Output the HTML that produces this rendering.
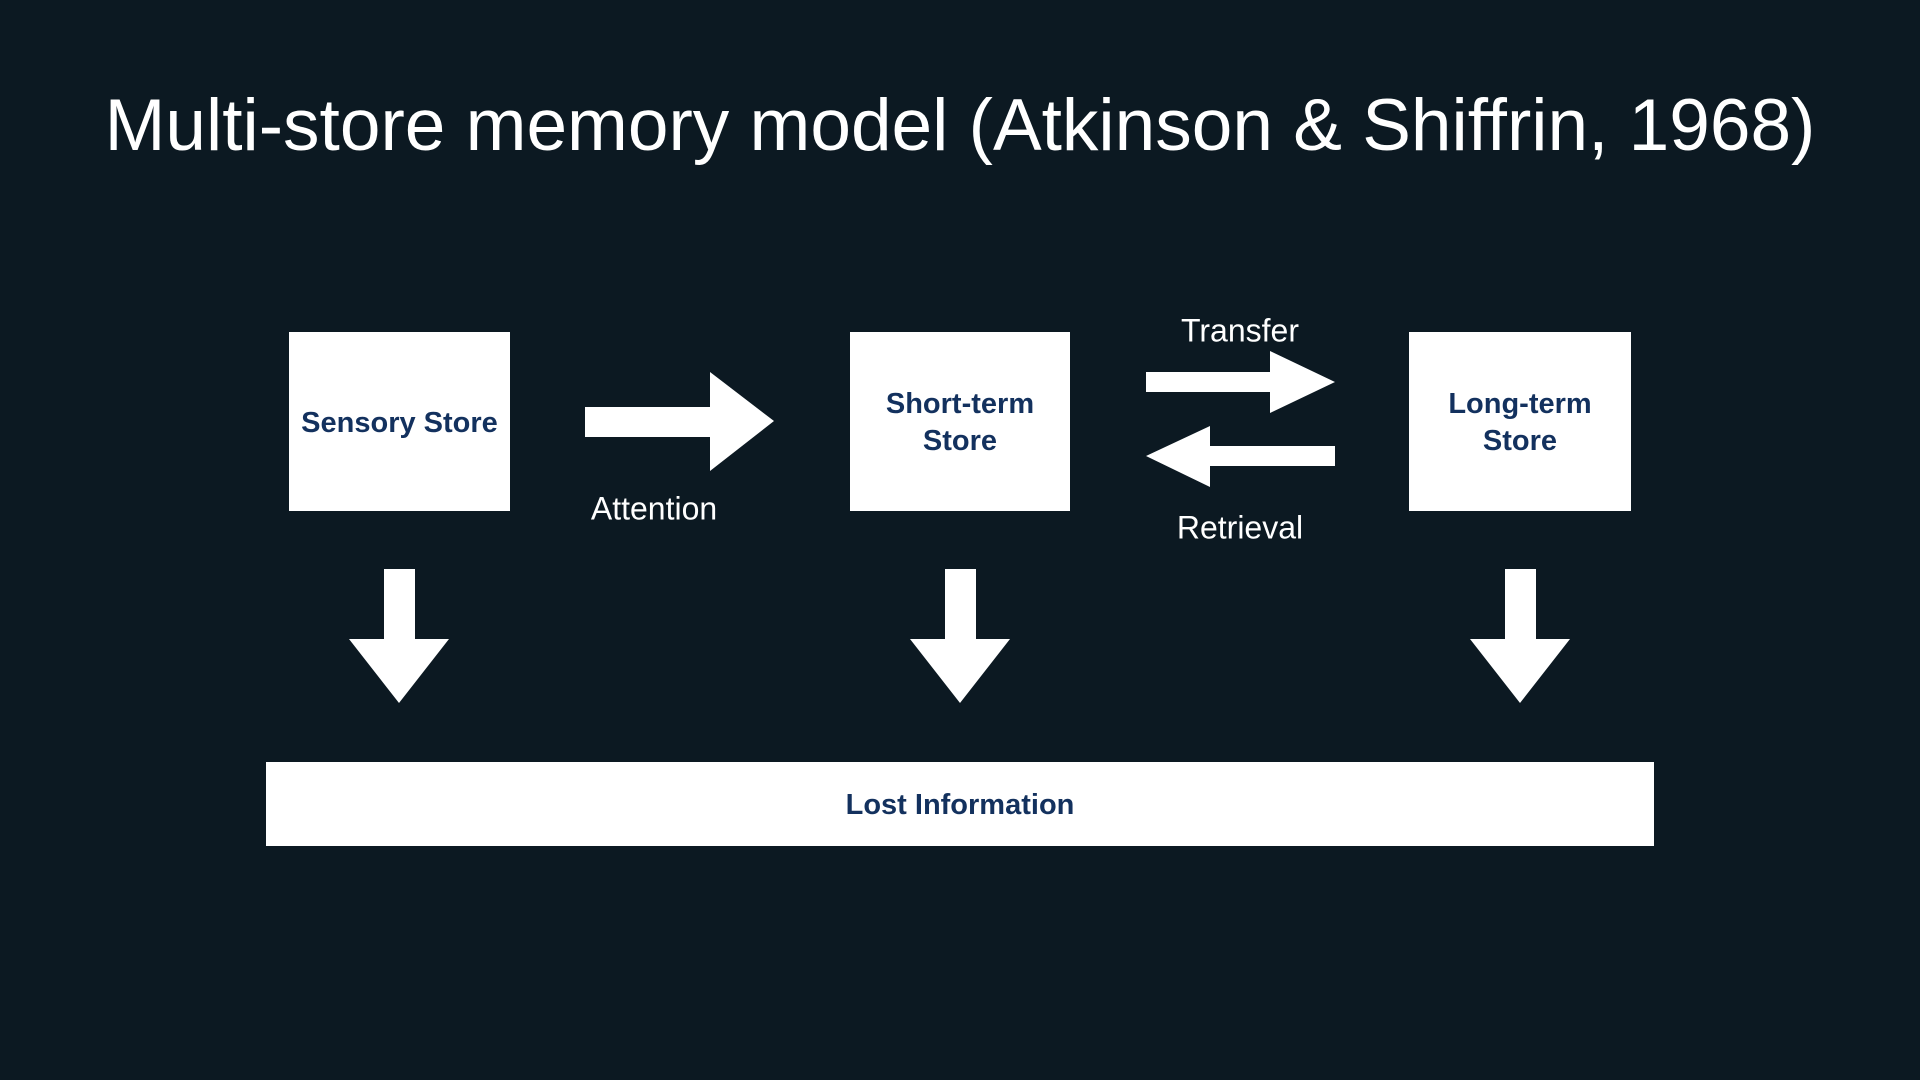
<!DOCTYPE html>
<html><head><meta charset="utf-8"><style>
html,body{margin:0;padding:0;background:#0c1922;width:1920px;height:1080px;overflow:hidden}
body{position:relative;font-family:"Liberation Sans",sans-serif}
.t{position:absolute;left:0;width:1920px;top:80px;text-align:center;color:#fff;font-size:73px;line-height:92px}
.box{position:absolute;background:#fff;color:#13315e;font-weight:bold;font-size:29px;display:flex;align-items:center;justify-content:center;text-align:center;line-height:37px;padding-top:3px;box-sizing:border-box}
.lbl{position:absolute;color:#fff;font-size:32px;transform:translate(-50%,-50%);white-space:nowrap}
</style></head><body>
<div class="t">Multi-store memory model (Atkinson &amp; Shiffrin, 1968)</div>
<div class="box" style="left:289px;top:332px;width:221px;height:179px">Sensory Store</div>
<div class="box" style="left:850px;top:332px;width:220px;height:179px">Short-term<br>Store</div>
<div class="box" style="left:1409px;top:332px;width:222px;height:179px">Long-term<br>Store</div>
<div class="box" style="left:266px;top:762px;width:1388px;height:84px">Lost Information</div>
<svg width="1920" height="1080" style="position:absolute;left:0;top:0">
<g fill="#fff">
<polygon points="585,407 710,407 710,372 774,421 710,471 710,437 585,437"/>
<polygon points="1146,372 1270,372 1270,351 1335,382 1270,413 1270,392 1146,392"/>
<polygon points="1335,446 1210,446 1210,426 1146,456 1210,487 1210,466 1335,466"/>
<polygon points="384,569 415,569 415,639 449,639 399,703 349,639 384,639"/>
<polygon points="945,569 976,569 976,639 1010,639 960,703 910,639 945,639"/>
<polygon points="1505,569 1536,569 1536,639 1570,639 1520,703 1470,639 1505,639"/>
</g></svg>
<div class="lbl" style="left:654px;top:509px">Attention</div>
<div class="lbl" style="left:1240px;top:331px">Transfer</div>
<div class="lbl" style="left:1240px;top:528px">Retrieval</div>
</body></html>
